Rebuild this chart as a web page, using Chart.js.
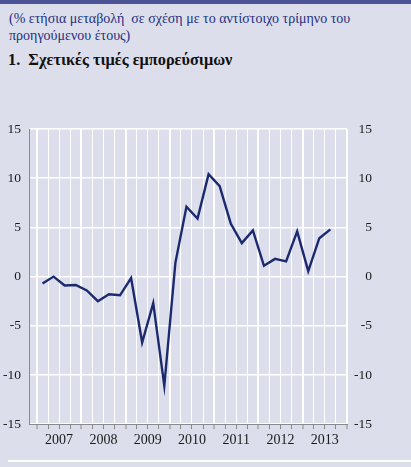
<!DOCTYPE html>
<html>
<head>
<meta charset="utf-8">
<script src="https://cdn.jsdelivr.net/npm/chart.js@4"></script>
<style>
  html, body { margin: 0; padding: 0; }
  body { width: 411px; height: 467px; background: #dcdeeb; position: relative; overflow: hidden; }
  .topbar { position: absolute; left: 0; top: 0; width: 411px; height: 4px; background: #4b5394; }
  .sub { position: absolute; left: 9px; top: 10px; font-family: 'Liberation Serif', serif; font-size: 14px; line-height: 17px; color: #23307f; white-space: nowrap; }
  .title { position: absolute; left: 8px; top: 50px; font-family: 'Liberation Serif', serif; font-size: 16.3px; font-weight: bold; color: #111; white-space: nowrap; }
  .bottomline { position: absolute; left: 8px; top: 460px; width: 403px; height: 2px; background: #ffffff; }
  #wrap { position: absolute; left: 0; top: 100px; width: 411px; height: 352px; }
</style>
</head>
<body>
<div class="topbar"></div>
<div class="sub">(% ετήσια μεταβολή&nbsp; σε σχέση με το αντίστοιχο τρίμηνο του<br>προηγούμενου έτους)</div>
<div class="title">1.&nbsp; Σχετικές τιμές εμπορεύσιμων</div>
<div id="wrap"><canvas id="chart"></canvas></div>
<div class="bottomline"></div>
<script>
    // quarterly values, 2007Q1 .. 2013Q3
    const years = ['2007', '2008', '2009', '2010', '2011', '2012', '2013'];
    const values = [
        -0.7, 0.0, -0.9, -0.85,
        -1.4, -2.5, -1.8, -1.9,
        -0.15, -6.7, -2.7, -11.1,
        1.4, 7.1, 5.9, 10.4,
        9.2, 5.4, 3.4, 4.7,
        1.1, 1.8, 1.55, 4.6,
        0.55, 3.9, 4.8
    ];
    const yTicks = [-15, -10, -5, 0, 5, 10, 15];

    const points = values.map((v, i) => ({ x: i + 0.5, y: v }));
    const nQuarters = years.length * 4;
    const serif = "'Liberation Serif', serif";

    new Chart(document.getElementById('chart'), {
        type: 'line',
        data: {
            datasets: [{
                data: points,
                borderColor: '#1b2a6e',
                borderWidth: 2.4,
                pointRadius: 0,
                tension: 0,
                fill: false
            }]
        },
        options: {
            responsive: true,
            maintainAspectRatio: false,
            animation: false,
            layout: { padding: { left: 0, right: 39, top: 29, bottom: 0 } },
            plugins: {
                legend: { display: false },
                tooltip: { enabled: false }
            },
            scales: {
                x: {
                    type: 'linear',
                    min: -0.72,
                    max: nQuarters,
                    afterBuildTicks: (axis) => {
                        axis.ticks = [];
                        for (let q = 0; q <= nQuarters; q++) axis.ticks.push({ value: q });
                    },
                    grid: {
                        color: '#ffffff',
                        lineWidth: (ctx) => (ctx.tick && ctx.tick.value % 4 === 0 ? 2 : 1),
                        drawTicks: true,
                        tickLength: 5,
                        tickColor: '#8a8a8a',
                        tickWidth: 1
                    },
                    border: { display: true, color: '#8a8a8a', width: 1 },
                    ticks: {
                        autoSkip: false,
                        maxRotation: 0,
                        padding: 3,
                        color: '#1a1a1a',
                        font: { family: serif, size: 14 },
                        callback: (value) => (value % 4 === 2 ? years[(value - 2) / 4] : '')
                    }
                },
                y: {
                    position: 'left',
                    min: -15,
                    max: 15,
                    afterBuildTicks: (axis) => { axis.ticks = yTicks.map(v => ({ value: v })); },
                    afterFit: (axis) => { axis.width = 29; },
                    grid: { color: '#ffffff', lineWidth: 1.5, drawTicks: false },
                    border: { display: true, color: '#8a8a8a', width: 1 },
                    ticks: {
                        padding: 8,
                        color: '#1a1a1a',
                        font: { family: serif, size: 13.5 }
                    }
                },
                y2: {
                    position: 'right',
                    min: -15,
                    max: 15,
                    afterBuildTicks: (axis) => { axis.ticks = yTicks.map(v => ({ value: v })); },
                    afterFit: (axis) => { axis.width = 25; },
                    grid: { display: false, drawTicks: false },
                    border: { display: false },
                    ticks: {
                        crossAlign: 'far',
                        padding: 8,
                        color: '#1a1a1a',
                        font: { family: serif, size: 13.5 }
                    }
                }
            }
        }
    });
</script>
</body>
</html>
